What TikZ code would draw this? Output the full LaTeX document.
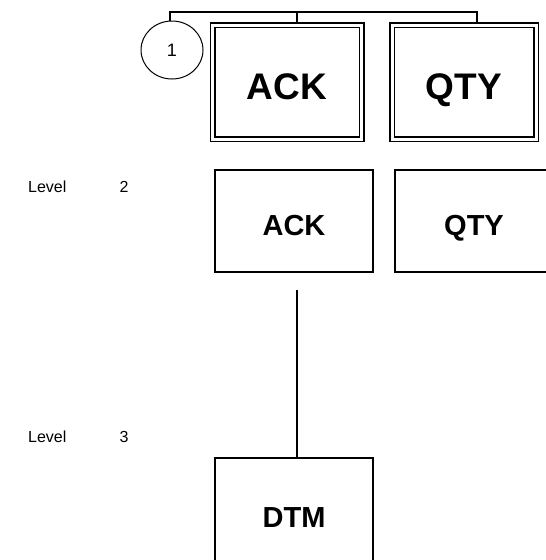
\documentclass[tikz,border=0pt]{standalone}
\usepackage{fontspec}
\setmainfont{Liberation Sans}
\usetikzlibrary{positioning,shapes.geometric}

\begin{document}
\begin{tikzpicture}[x=1pt,y=-1pt,
	every node/.style={inner sep=0pt},
	segbox/.style={draw,line width=2pt,minimum width=158pt,minimum height=102pt,
		text height=29pt,text depth=0pt,
		font=\bfseries\fontsize{29}{31}\selectfont},
	topbox/.style={draw,line width=1.5pt,double,double distance=3pt,
		minimum height=114pt,text height=34pt,text depth=0pt,
		font=\bfseries\fontsize{37}{40}\selectfont},
	lvl/.style={font=\fontsize{16}{18}\selectfont},
	wire/.style={line width=2pt}]
		\useasboundingbox (0,0) rectangle (546,560);
		\clip (0,0) rectangle (546,560);

		% header row
		\node[ellipse,draw,line width=1pt,minimum width=62pt,minimum height=58pt,
			font=\fontsize{18}{20}\selectfont] (one) at (172,50) {1};
		\node[topbox,minimum width=149pt] (ackA) at (287,82) {ACK};
		\node[topbox,minimum width=144pt] (qtyA) at (464,82) {QTY};

		\coordinate (busL) at (170,12);
		\coordinate (busM) at (297,12);
		\coordinate (busR) at (477,12);
		\draw[wire] (one.north -| busL) -- (busL) -- (busR) -- (busR |- qtyA.north);
		\draw[wire] (busM) -- (busM |- ackA.north);

		% level 2
		\node[lvl,anchor=west] (lvlA) at (28,187) {Level};
		\node[lvl] (numA) at (124,187) {2};
		\node[segbox] (ackB) at (294,221) {ACK};
		\node[segbox] (qtyB) [right=20pt of ackB] {QTY};

		% level 3
		\node[lvl,anchor=west] (lvlB) at (28,437) {Level};
		\node[lvl] (numB) at (124,437) {3};
		\node[segbox,minimum height=110pt] (dtm) at (294,513) {DTM};

		\coordinate (stub) at (297,290);
		\draw[line width=2.5pt] (stub) -- (stub |- dtm.north);
	\end{tikzpicture}
\end{document}
